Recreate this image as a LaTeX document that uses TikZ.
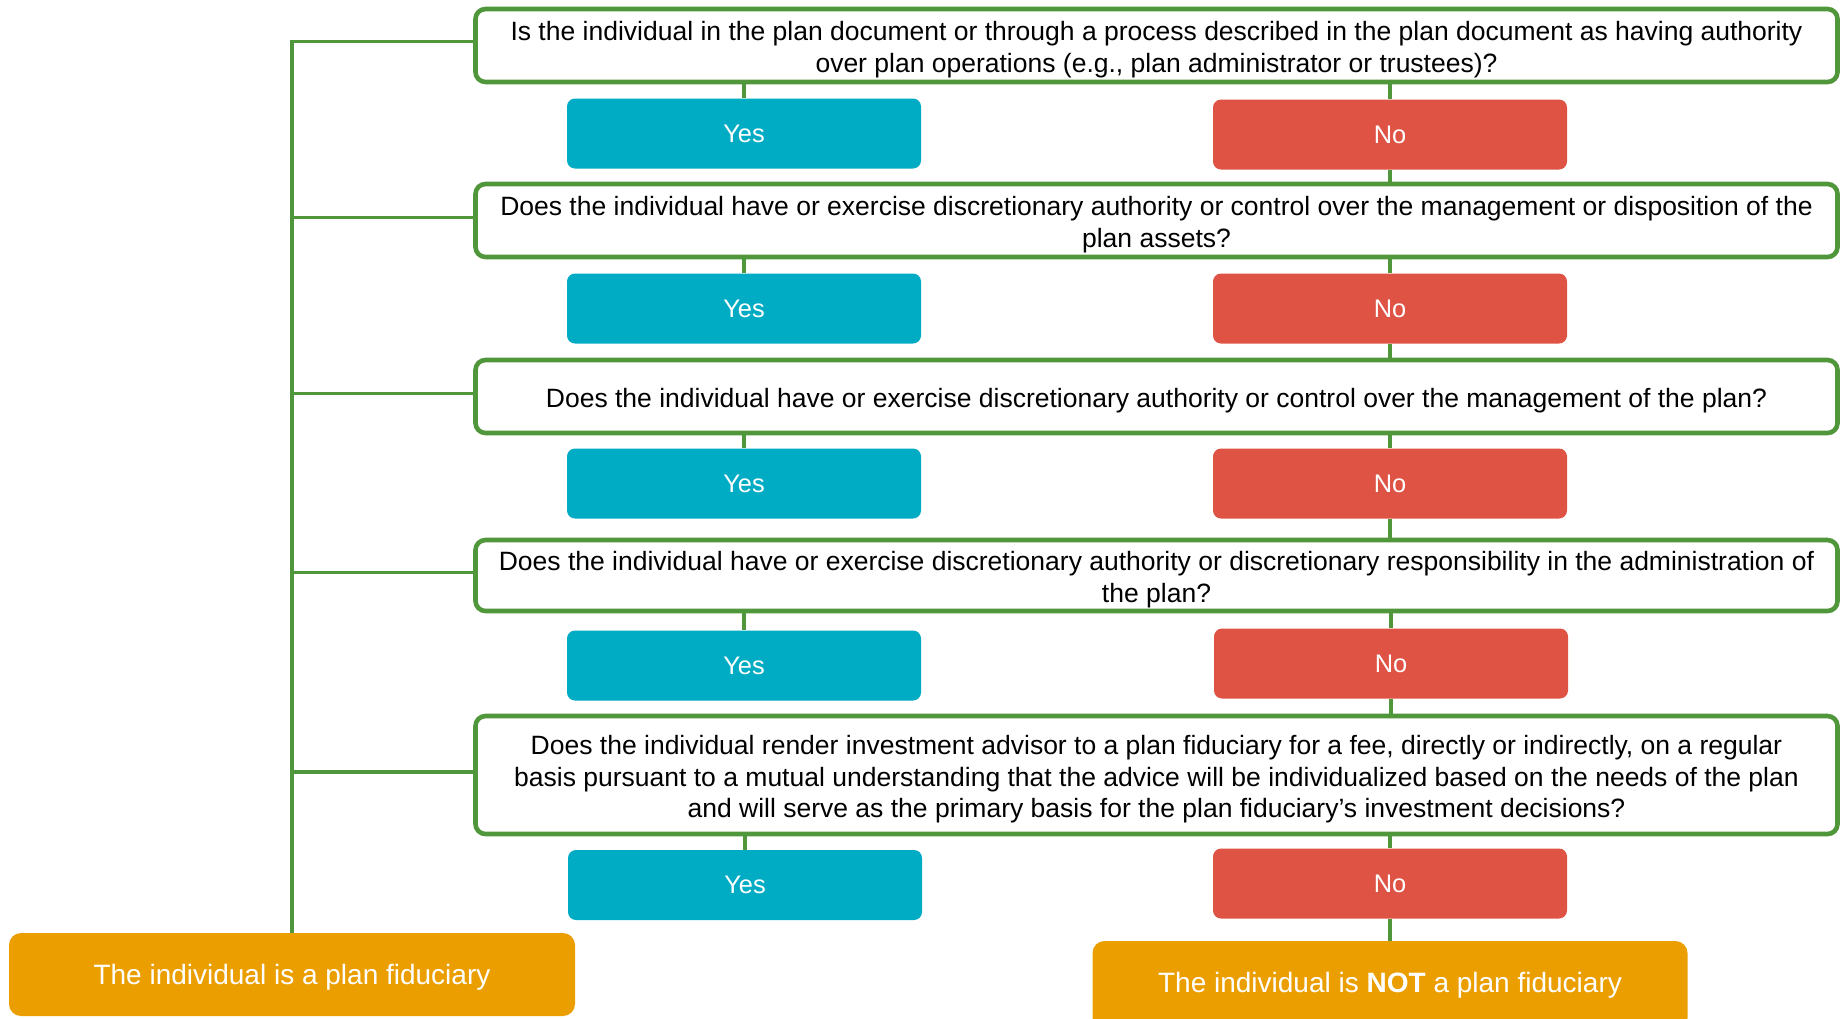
\documentclass[tikz,border=0pt]{standalone}
\usepackage{fontspec}
\setmainfont{Liberation Sans}
\usetikzlibrary{positioning}

\definecolor{linkgreen}{RGB}{80,150,58}
\definecolor{yescyan}{RGB}{0,171,196}
\definecolor{nored}{RGB}{223,83,69}
\definecolor{endorange}{RGB}{235,158,0}

\newcommand{\qstrut}{\rule{0pt}{14pt}}

\tikzset{
  question/.style={draw=linkgreen, line width=2.3pt, rounded corners=5pt, fill=white,
    minimum width=681pt, align=center, inner sep=0pt,
    font=\fontsize{13.25}{15.85}\selectfont},
  yesbox/.style={fill=yescyan, rounded corners=4pt, minimum width=177pt, minimum height=35pt,
    text=white, font=\fontsize{12.7}{15}\selectfont},
  nobox/.style={yesbox, fill=nored},
  endbox/.style={fill=endorange, rounded corners=6pt, text=white,
    font=\fontsize{14}{17}\selectfont},
  link/.style={draw=linkgreen, line width=1.6pt},
}

\begin{document}
\begin{tikzpicture}[x=0.5pt, y=-0.5pt]

    \useasboundingbox (0,0) rectangle (1840,1018);

    % 1. Questions
    \node[question, minimum height=36.5pt] (q1) at (1156.5,45.5)
      {\qstrut Is the individual in the plan document or through a process described in the plan document as having authority\\
       over plan operations (e.g., plan administrator or trustees)?};
    \node[question, minimum height=36.5pt] (q2) at (1156.5,220.5)
      {\qstrut Does the individual have or exercise discretionary authority or control over the management or disposition of the\\
       plan assets?};
    \node[question, minimum height=36.5pt] (q3) at (1156.5,396.5)
      {\qstrut Does the individual have or exercise discretionary authority or control over the management of the plan?};
    \node[question, minimum height=35.5pt] (q4) at (1156.5,575.5)
      {\qstrut Does the individual have or exercise discretionary authority or discretionary responsibility in the administration of\\
       the plan?};
    \node[question, minimum height=59pt] (q5) at (1156.5,775)
      {\qstrut Does the individual render investment advisor to a plan fiduciary for a fee, directly or indirectly, on a regular\\
       basis pursuant to a mutual understanding that the advice will be individualized based on the needs of the plan\\
       and will serve as the primary basis for the plan fiduciary’s investment decisions?};

    % 2. Answers
    \node[yesbox] (yes1) at (744,133.5) {Yes};
    \node[yesbox] (yes2) at (744,308.5) {Yes};
    \node[yesbox] (yes3) at (744,483.5) {Yes};
    \node[yesbox] (yes4) at (744,665.5) {Yes};
    \node[yesbox] (yes5) at (745,885) {Yes};

    \node[nobox] (no1) at (1390,134.5) {No};
    \node[nobox] (no2) at (1390,308.5) {No};
    \node[nobox] (no3) at (1390,483.5) {No};
    \node[nobox] (no4) at (1391,663.5) {No};
    \node[nobox] (no5) at (1390,883.5) {No};

    % 3. Outcomes
    \node[endbox, minimum width=283pt, minimum height=41.5pt] (fid) at (292,974.5)
      {\rule{0pt}{13pt}The individual is a plan fiduciary};
    \node[endbox, minimum width=297.5pt, minimum height=44.5pt] (notfid) at (1390,985.5)
      {The individual is \textbf{NOT} a plan fiduciary};

    % 4. Connectors
    \coordinate (tap1) at ([yshift=2pt]q1.west);
    \draw[link] (fid.north) -- (fid.north |- tap1) -- (tap1);
    \foreach \q in {q2,q3,q4,q5}
      \draw[link] ([yshift=1.5pt]\q.west) -- ([yshift=1.5pt]\q.west -| fid.north);
    \foreach \i in {1,...,5} {
      \draw[link] (yes\i.north) -- (yes\i.north |- q\i.south);
      \draw[link] (no\i.north) -- (no\i.north |- q\i.south);
    }
    \foreach \i/\j in {1/2,2/3,3/4,4/5}
      \draw[link] (no\i.south) -- (no\i.south |- q\j.north);
    \draw[link] (no5.south) -- (no5.south |- notfid.north);

\end{tikzpicture}
\end{document}
